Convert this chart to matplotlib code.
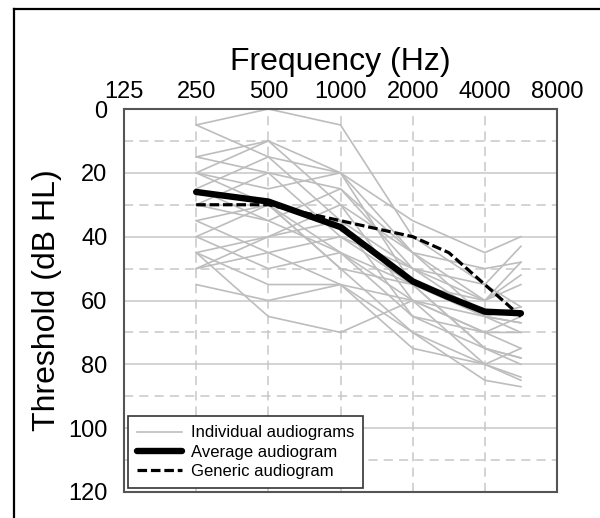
import numpy as np
import matplotlib
matplotlib.use('Agg')
import matplotlib.pyplot as plt
from matplotlib.lines import Line2D
from matplotlib.ticker import FixedLocator

plt.rcParams['font.family'] = ['Liberation Sans', 'DejaVu Sans']

# axis ticks (audiometric frequencies, categorical octave spacing)
TICK_FREQS = [125, 250, 500, 1000, 2000, 4000, 8000]
TICK_LABELS = ['125', '250', '500', '1000', '2000', '4000', '8000']

# individual audiograms, dB HL at these frequencies
ind_freqs = [250, 500, 1000, 2000, 4000, 6000]
individual = [
    [5, 0, 5, 40, 55, 62],
    [5, 15, 20, 45, 65, 70],
    [15, 10, 20, 55, 75, 78],
    [15, 20, 25, 50, 60, 55],
    [20, 10, 30, 60, 80, 85],
    [20, 25, 20, 35, 45, 40],
    [25, 15, 35, 65, 70, 75],
    [30, 20, 40, 50, 65, 67],
    [30, 35, 25, 45, 50, 48],
    [35, 30, 45, 60, 70, 65],
    [35, 45, 40, 55, 60, 52],
    [40, 30, 50, 70, 85, 87],
    [40, 50, 45, 65, 75, 78],
    [45, 40, 35, 50, 55, 43],
    [45, 55, 55, 60, 65, 67],
    [45, 65, 70, 60, 70, 70],
    [50, 40, 30, 45, 60, 48],
    [50, 45, 55, 70, 80, 84],
    [55, 60, 55, 75, 80, 75],
    [25, 35, 45, 55, 75, 80],
    [20, 30, 50, 55, 65, 62],
]

# average and generic audiograms
avg_freqs = [250, 500, 1000, 2000, 3000, 4000, 6000]
avg_vals = [26, 29, 37, 54, 59, 63.5, 64]
gen_freqs = [250, 500, 1000, 2000, 3000, 4000, 6000]
gen_vals = [30, 30, 35, 40, 45, 55, 65]


def freq_pos(f):
    # linear between neighbouring audiometric ticks, so 6000 sits half way 4000-8000
    return np.interp(f, TICK_FREQS, np.arange(len(TICK_FREQS)))


fig = plt.figure(figsize=(6.0, 5.18), dpi=100)
ax = fig.add_axes([124 / 600, 1 - 492 / 518, (557 - 124) / 600, (492 - 109) / 518])

for k, row in enumerate(individual):
    ax.plot(freq_pos(ind_freqs), row, color='#bdbdbd', lw=1.2, zorder=2,
            label='Individual audiograms' if k == 0 else None)
ax.plot(freq_pos(avg_freqs), avg_vals, color='black', lw=4.6, zorder=4,
        solid_capstyle='round', solid_joinstyle='round', label='Average audiogram')
ax.plot(freq_pos(gen_freqs), gen_vals, color='black', lw=2.3, zorder=3,
        linestyle=(0, (3, 1.2)), label='Generic audiogram')

ax.set_xlim(0, 6)
ax.set_ylim(120, 0)
ax.set_xticks(np.arange(len(TICK_FREQS)))
ax.set_xticklabels(TICK_LABELS)
ax.set_yticks(np.arange(0, 121, 20))
ax.yaxis.set_minor_locator(FixedLocator(np.arange(10, 120, 20)))
ax.xaxis.tick_top()
ax.xaxis.set_label_position('top')
ax.tick_params(axis='both', which='both', length=0, labelsize=17)
ax.tick_params(axis='x', pad=4)
ax.tick_params(axis='y', pad=12)

ax.set_axisbelow(True)
ax.grid(axis='y', which='major', color='#c8c8c8', lw=1.1, ls='-')
ax.grid(axis='y', which='minor', color='#c8c8c8', lw=1.1, ls=(0, (6, 4)))
ax.grid(axis='x', which='major', color='#c8c8c8', lw=1.1, ls=(0, (6, 4)))

for s in ax.spines.values():
    s.set_color('#555555')
    s.set_linewidth(1.5)

ax.set_xlabel('Frequency (Hz)', fontsize=23, labelpad=8)
ax.set_ylabel('Threshold (dB HL)', fontsize=23, labelpad=4)

leg = ax.legend(loc='lower left', fontsize=12, handlelength=2.7, labelspacing=0.25,
                borderaxespad=0.25, borderpad=0.55, handletextpad=0.5, fancybox=False,
                framealpha=1, edgecolor='#333333')
leg.get_frame().set_linewidth(1.2)

# outer frame of the figure panel
fig.add_artist(Line2D([14 / 600, 1], [1 - 9 / 518, 1 - 9 / 518], color='black', lw=1.6))
fig.add_artist(Line2D([14 / 600, 14 / 600], [0, 1 - 9 / 518], color='black', lw=1.6))

fig.savefig('out.png', dpi=100)
